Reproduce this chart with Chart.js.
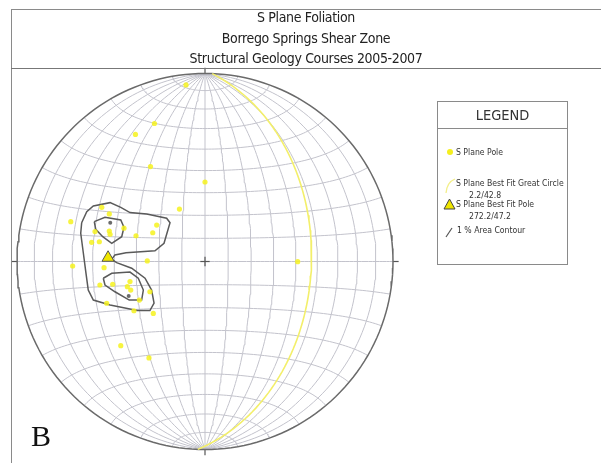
<!DOCTYPE html>
<html>
<head>
<meta charset="utf-8">
<script src="https://cdn.jsdelivr.net/npm/chart.js@4.4.1/dist/chart.umd.min.js"></script>
<style>
  html, body { margin: 0; padding: 0; background: #fff; }
  #pagina { position: relative; width: 601px; height: 466px; overflow: hidden; }
  #rede { position: absolute; left: 0; top: 0; }
  .moldura { position: absolute; left: 11px; top: 9px; width: 600px; height: 453px;
             border-left: 1px solid #8a8a8a; border-top: 1px solid #8a8a8a; }
  .titulo { position: absolute; left: 11px; top: 9px; width: 590px; height: 59px;
            border-bottom: 1px solid #777; }
  .titulo div { position: absolute; left: 0; width: 590px; text-align: center;
                font-family: "Liberation Sans Narrow", "DejaVu Sans Condensed", sans-serif;
                font-size: 14px; letter-spacing: -0.35px; color: #222; line-height: 16px; }
  .legenda { position: absolute; left: 437px; top: 101px; width: 129px; height: 162px;
             border: 1px solid #8a8a8a; font-family: "Liberation Sans Narrow", "DejaVu Sans Condensed", sans-serif; color: #333; }
  .legenda .cabecalho { height: 26px; border-bottom: 1px solid #8a8a8a; text-align: center;
                        font-size: 14.5px; line-height: 27px; color: #333; }
  .legenda .item { position: absolute; font-size: 8.6px; line-height: 10px; white-space: nowrap; }
  .legenda svg { position: absolute; }
  .letra { position: absolute; left: 31px; top: 419px; font-family: "Liberation Serif", serif;
           font-size: 30px; color: #111; }
</style>
</head>
<body>
<div id="pagina">
  <canvas id="rede" width="601" height="466"></canvas>
  <div class="moldura"></div>
  <div class="titulo">
    <div style="top:0px">S Plane Foliation</div>
    <div style="top:21px">Borrego Springs Shear Zone</div>
    <div style="top:41px">Structural Geology Courses 2005-2007</div>
  </div>
  <div class="legenda" id="legenda">
    <div class="cabecalho">LEGEND</div>
  </div>
  <div class="letra">B</div>
</div>
<script>
// polos dos planos S, em unidades da rede (raio da primitiva = 1, leste = x, norte = y)
var poloLeste = [-0.101, -0.269, -0.370, -0.290, 0.000, -0.136, -0.549, -0.509, -0.714, -0.257,
                 -0.278, -0.585, -0.509, -0.505, -0.431, -0.603, -0.562, -0.367, -0.307, -0.704,
                 -0.537, -0.559, -0.491, -0.399, -0.413, -0.395, -0.349, -0.293, -0.523, -0.378,
                 -0.275, -0.448, -0.298, 0.493];
var poloNorte = [0.939, 0.734, 0.676, 0.505, 0.423, 0.279, 0.288, 0.253, 0.212, 0.194,
                 0.153, 0.159, 0.162, 0.145, 0.177, 0.102, 0.105, 0.137, 0.003, -0.024,
                 -0.033, -0.125, -0.121, -0.107, -0.134, -0.152, -0.205, -0.161, -0.222, -0.262,
                 -0.276, -0.448, -0.513, -0.001];

// maximos dentro dos contornos
var maximoLeste = [-0.504, -0.406];
var maximoNorte = [0.206, -0.184];

// contornos de 1% de area
var contornoExterno = [[-0.656, 0.206], [-0.629, 0.265], [-0.594, 0.295], [-0.505, 0.313], [-0.448, 0.288],
                       [-0.399, 0.260], [-0.310, 0.253], [-0.204, 0.230], [-0.186, 0.206], [-0.218, 0.097],
                       [-0.266, 0.057], [-0.420, 0.047], [-0.479, 0.035], [-0.496, 0.012], [-0.470, -0.006],
                       [-0.390, -0.036], [-0.319, -0.089], [-0.284, -0.152], [-0.271, -0.222], [-0.293, -0.261],
                       [-0.360, -0.261], [-0.505, -0.231], [-0.594, -0.205], [-0.621, -0.152], [-0.633, -0.063],
                       [-0.647, 0.044], [-0.661, 0.150]];
var contornoSuperior = [[-0.589, 0.212], [-0.532, 0.235], [-0.448, 0.221], [-0.431, 0.182],
                        [-0.443, 0.132], [-0.496, 0.097], [-0.544, 0.132], [-0.581, 0.171]];
var contornoInferior = [[-0.541, -0.089], [-0.496, -0.063], [-0.399, -0.056], [-0.355, -0.089], [-0.328, -0.152],
                        [-0.337, -0.205], [-0.403, -0.205], [-0.479, -0.161], [-0.532, -0.125]];

// melhor ajuste: plano (strike/dip) e polo (trend/plunge)
var planoAjustado = [2.2, 42.8];
var poloAjustado = [272.2, 47.2];

var rad = Math.PI / 180;

// projecao de area igual (Schmidt), hemisferio inferior; e, n, d = leste, norte, para baixo
function projetar(e, n, d) {
    var k = Math.sqrt(1 + d);
    return { x: e / k, y: n / k };
}

function linhaDaRede(lista, cor, largura, ordem) {
    return {
        data: lista, showLine: true, pointRadius: 0, borderColor: cor, borderWidth: largura,
        fill: false, clip: false, order: ordem
    };
}

function meridiano(lon) {
    var pts = [];
    for (var lat = -90; lat <= 90; lat += 2) {
        var c = Math.cos(lat * rad);
        pts.push(projetar(c * Math.sin(lon * rad), Math.sin(lat * rad), c * Math.cos(lon * rad)));
    }
    return pts;
}

function paralelo(lat) {
    var pts = [];
    for (var lon = -90; lon <= 90; lon += 2) {
        var c = Math.cos(lat * rad);
        pts.push(projetar(c * Math.sin(lon * rad), Math.sin(lat * rad), c * Math.cos(lon * rad)));
    }
    return pts;
}

function grandeCirculo(strike, dip) {
    var s = strike * rad, az = (strike + 90) * rad, dp = dip * rad;
    var pts = [];
    for (var r = 0; r <= 180; r += 2) {
        var cr = Math.cos(r * rad), sr = Math.sin(r * rad);
        var e = cr * Math.sin(s) + sr * Math.cos(dp) * Math.sin(az);
        var n = cr * Math.cos(s) + sr * Math.cos(dp) * Math.cos(az);
        var d = sr * Math.sin(dp);
        pts.push(projetar(e, n, d));
    }
    return pts;
}

function polo(trend, plunge) {
    var t = trend * rad, p = plunge * rad;
    return projetar(Math.cos(p) * Math.sin(t), Math.cos(p) * Math.cos(t), Math.sin(p));
}

function fechar(lista) {
    var pts = lista.map(function(p) { return { x: p[0], y: p[1] }; });
    pts.push(pts[0]);
    return pts;
}

var datasets = [];

// rede: meridianos e paralelos de 10 em 10 graus
for (var g = -80; g <= 80; g += 10) {
    datasets.push(linhaDaRede(meridiano(g), '#c3c3cc', 1, 6));
    datasets.push(linhaDaRede(paralelo(g), '#c3c3cc', 1, 6));
}

// primitiva
var primitiva = [];
for (var a = 0; a <= 360; a += 2) {
    primitiva.push({ x: Math.sin(a * rad), y: Math.cos(a * rad) });
}
datasets.push(linhaDaRede(primitiva, '#6a6a6a', 1.5, 4));

// marcas N, S, E, W e cruz central
datasets.push(linhaDaRede([{ x: 0, y: 1 }, { x: 0, y: 1.03 }], '#555', 1.2, 4));
datasets.push(linhaDaRede([{ x: 0, y: -1 }, { x: 0, y: -1.03 }], '#555', 1.2, 4));
datasets.push(linhaDaRede([{ x: 1, y: 0 }, { x: 1.03, y: 0 }], '#555', 1.2, 4));
datasets.push(linhaDaRede([{ x: -1, y: 0 }, { x: -1.03, y: 0 }], '#555', 1.2, 4));
datasets.push(linhaDaRede([{ x: -0.025, y: 0 }, { x: 0.025, y: 0 }], '#555', 1.2, 4));
datasets.push(linhaDaRede([{ x: 0, y: -0.025 }, { x: 0, y: 0.025 }], '#555', 1.2, 4));

// grande circulo de melhor ajuste
datasets.push(linhaDaRede(grandeCirculo(planoAjustado[0], planoAjustado[1]), '#f3ef6a', 1.6, 3));

// contornos
datasets.push(linhaDaRede(fechar(contornoExterno), '#5a5a5a', 1.5, 2));
datasets.push(linhaDaRede(fechar(contornoSuperior), '#5a5a5a', 1.5, 2));
datasets.push(linhaDaRede(fechar(contornoInferior), '#5a5a5a', 1.5, 2));

// polos
datasets.push({
    data: poloLeste.map(function(x, i) { return { x: x, y: poloNorte[i] }; }),
    pointRadius: 2.6, pointBackgroundColor: 'rgba(246,242,30,0.85)', pointBorderWidth: 0,
    clip: false, order: 1
});
datasets.push({
    data: maximoLeste.map(function(x, i) { return { x: x, y: maximoNorte[i] }; }),
    pointRadius: 2, pointBackgroundColor: '#6b6b6b', pointBorderWidth: 0, clip: false, order: 1
});

// polo de melhor ajuste
datasets.push({
    data: [polo(poloAjustado[0], poloAjustado[1])],
    pointStyle: 'triangle', pointRadius: 7, pointBackgroundColor: '#efe600',
    pointBorderColor: '#555', pointBorderWidth: 1, clip: false, order: 0
});

new Chart(document.getElementById('rede').getContext('2d'), {
    type: 'scatter',
    data: { datasets: datasets },
    options: {
        responsive: false,
        animation: false,
        layout: { padding: { left: 17, right: 208, top: 73.5, bottom: 16.5 } },
        scales: {
            x: { type: 'linear', min: -1, max: 1, display: false },
            y: { type: 'linear', min: -1, max: 1, display: false }
        },
        plugins: { legend: { display: false }, tooltip: { enabled: false } }
    }
});

// legenda
var itens = [
    { texto: 'S Plane Pole', x: 18, y: 45 },
    { texto: 'S Plane Best Fit Great Circle', x: 18, y: 76 },
    { texto: planoAjustado[0] + '/' + planoAjustado[1], x: 31, y: 88 },
    { texto: 'S Plane Best Fit Pole', x: 18, y: 97 },
    { texto: poloAjustado[0] + '/' + poloAjustado[1], x: 31, y: 109 },
    { texto: '1 % Area Contour', x: 19, y: 123 }
];
var legenda = document.getElementById('legenda');
itens.forEach(function(it) {
    var el = document.createElement('div');
    el.className = 'item';
    el.style.left = it.x + 'px';
    el.style.top = it.y + 'px';
    el.textContent = it.texto;
    legenda.appendChild(el);
});
legenda.insertAdjacentHTML('beforeend',
    '<svg style="left:7px;top:45px" width="10" height="10"><circle cx="5" cy="5" r="3" fill="#f5ef1e"/></svg>' +
    '<svg style="left:6px;top:76px" width="12" height="16"><path d="M2 15 Q3 4 11 1" stroke="#f3ef8a" stroke-width="1.3" fill="none"/></svg>' +
    '<svg style="left:5px;top:96px" width="13" height="12"><path d="M6.5 1 L12 11 L1 11 Z" fill="#efe600" stroke="#444" stroke-width="1"/></svg>' +
    '<svg style="left:7px;top:124px" width="9" height="12"><path d="M1 11 L7 2" stroke="#555" stroke-width="1.2"/></svg>'
);
</script>
</body>
</html>
